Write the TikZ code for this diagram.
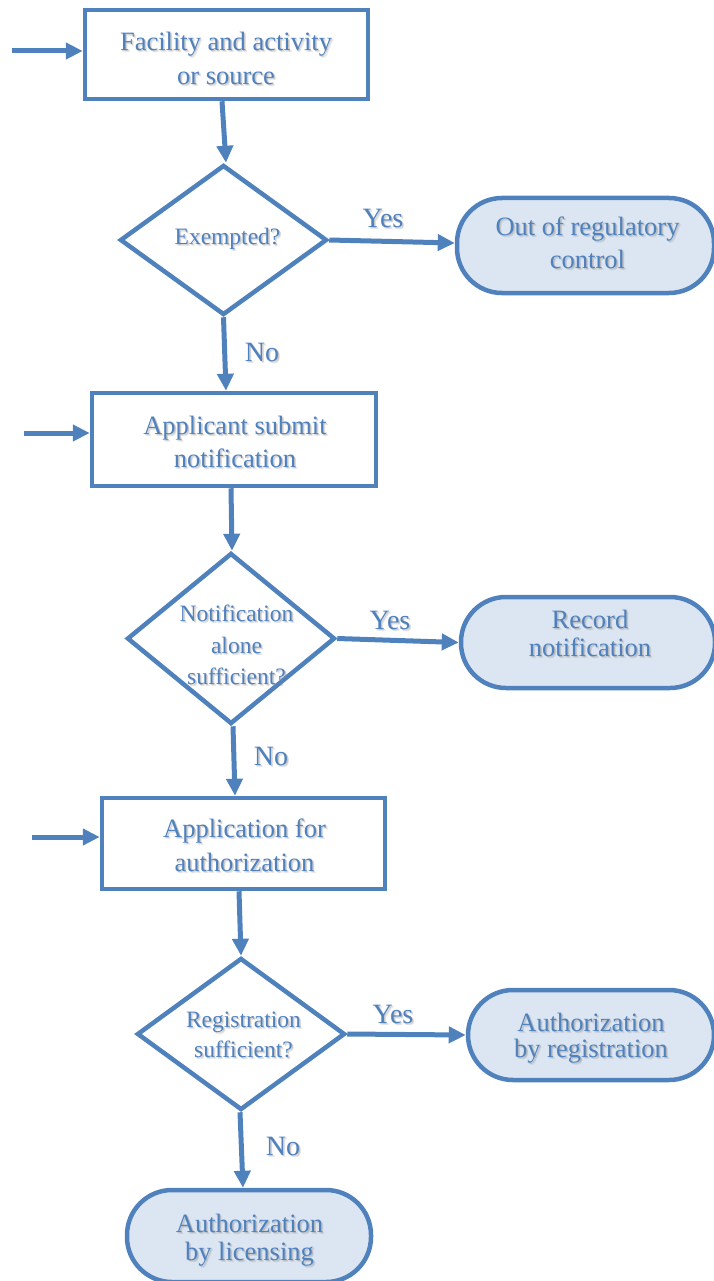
\documentclass[tikz,border=0pt]{standalone}
\usepackage{fontspec}
\newfontfamily\flowfont{LiberationSerif-Regular.ttf}
\usetikzlibrary{shapes.geometric,arrows.meta}
\definecolor{flowblue}{HTML}{4F81BD}
\definecolor{termfill}{HTML}{DCE6F2}
\definecolor{shadowgray}{HTML}{8C8C8C}
% text with a soft drop shadow: style, name, position, text
\newcommand{\shadowtext}[4]{%
  \node[#1, text=shadowgray, opacity=0.22] (#2-sha) at ([xshift=2pt,yshift=-2.2pt]#3) {#4};
  \node[#1, text=shadowgray, opacity=0.35] (#2-shb) at ([xshift=1.2pt,yshift=-1.3pt]#3) {#4};
  \node[#1] (#2) at (#3) {#4};}
\begin{document}
\begin{tikzpicture}[x=1pt,y=-1pt,
  txt/.style={text=flowblue, align=center, inner sep=0pt, font=\flowfont\fontsize{26.5}{#1}\selectfont},
  txt/.default=34,
  dtxt/.style={text=flowblue, align=center, inner sep=0pt, font=\flowfont\fontsize{23.5}{#1}\selectfont},
  dtxt/.default=31,
  answer/.style={text=flowblue, inner sep=0pt, font=\flowfont\fontsize{28}{30}\selectfont},
  procbox/.style={draw=flowblue, line width=4.5pt, rectangle, inner sep=0pt},
  decision/.style={draw=flowblue, line width=4.5pt, diamond, inner sep=0pt},
  terminal/.style={draw=flowblue, fill=termfill, line width=4.5pt, rectangle,
    inner sep=0pt, rounded corners=45pt},
  arr/.style={draw=flowblue, line width=5pt, -{Triangle[length=17pt,width=16pt]}}
]
\useasboundingbox (0,0) rectangle (713,1281);

% process boxes
\node[procbox, minimum width=283pt, minimum height=89pt] (b1) at (226.5,54.5) {};
\node[procbox, minimum width=284pt, minimum height=93pt] (b2) at (234,439.5) {};
\node[procbox, minimum width=283pt, minimum height=91pt] (b3) at (243.5,843.5) {};

% decisions
\node[decision, minimum width=207pt, minimum height=150pt] (d1) at (223.5,240) {};
\node[decision, minimum width=208pt, minimum height=171pt] (d2) at (231,638.5) {};
\node[decision, minimum width=208pt, minimum height=152pt] (d3) at (241,1034) {};

% outcomes
\node[terminal, minimum width=257pt, minimum height=95pt] (t1) at (585.5,245.5) {};
\node[terminal, minimum width=254pt, minimum height=91pt] (t2) at (588,642.5) {};
\node[terminal, minimum width=246pt, minimum height=90pt] (t3) at (591,1035) {};
\node[terminal, minimum width=244pt, minimum height=92pt] (t4) at (249,1236) {};

% texts
\shadowtext{txt}{b1t}{226,58}{Facility and activity\\or source}
\shadowtext{txt=33}{b2t}{235,442}{Applicant submit\\notification}
\shadowtext{txt}{b3t}{244.5,845}{Application for\\authorization}
\shadowtext{dtxt}{d1t}{227.5,238.5}{Exempted?}
\shadowtext{dtxt=31.5}{d2t}{236.5,645}{Notification\\alone\\sufficient?}
\shadowtext{dtxt=30}{d3t}{243.5,1035}{Registration\\sufficient?}
\shadowtext{txt=33}{t1t}{587.5,242.5}{Out of regulatory\\control}
\shadowtext{txt=28}{t2t}{590,633}{Record\\notification}
\shadowtext{txt=26.5}{t3t}{591,1038}{Authorization\\by registration}
\shadowtext{txt=28}{t4t}{249.5,1240}{Authorization\\by licensing}

% entry points
\coordinate (in1) at (12,51);
\coordinate (in2) at (24,433);
\coordinate (in3) at (32,837);
\draw[arr] (in1) -- (in1 -| b1.west);
\draw[arr] (in2) -- (in2 -| b2.west);
\draw[arr] (in3) -- (in3 -| b3.west);

% main flow
\draw[arr] ([xshift=-4.5pt]b1.south) -- ([xshift=2.5pt]d1.north);
\draw[arr] (d1.south) -- ([xshift=-8pt]b2.north);
\draw[arr] ([xshift=-3pt]b2.south) -- ([xshift=1pt]d2.north);
\draw[arr] ([xshift=2pt]d2.south) -- ([xshift=-8.5pt]b3.north);
\draw[arr] ([xshift=-4.5pt]b3.south) -- (d3.north);
\draw[arr] ([xshift=-1pt]d3.south) -- ([xshift=-6pt]t4.north);

% yes branches
\draw[arr] (d1.east) -- ([yshift=2.5pt]t1.west);
\draw[arr] (d2.east) -- (t2.west);
\draw[arr] (d3.east) -- (t3.west);

% branch labels
\shadowtext{answer}{y1}{383,218}{Yes}
\shadowtext{answer}{y2}{390,620}{Yes}
\shadowtext{answer}{y3}{393,1014}{Yes}
\shadowtext{answer}{n1}{262,352}{No}
\shadowtext{answer}{n2}{271,756}{No}
\shadowtext{answer}{n3}{283,1146}{No}
\end{tikzpicture}
\end{document}
